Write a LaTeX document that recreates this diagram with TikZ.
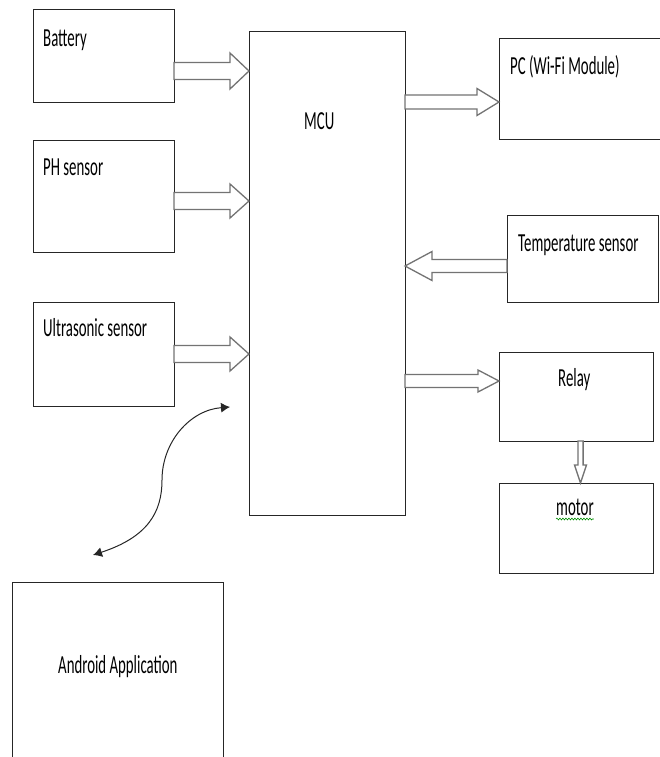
\documentclass[tikz,border=0pt]{standalone}
\usepackage{fontspec}
\setmainfont[FakeStretch=0.57]{Carlito}
\usetikzlibrary{calc,arrows.meta,decorations.pathmorphing}
\newcommand\blockh[5]{%
  \draw[blk] let \p1=#1, \p2=#2, \n1={ifthenelse(\x2>\x1,1,-1)} in
    (\x1,\y1+#3pt) -- (\x2-\n1*#5pt,\y1+#3pt) -- (\x2-\n1*#5pt,\y1+#4pt) --
    (\x2,\y1) -- (\x2-\n1*#5pt,\y1-#4pt) -- (\x2-\n1*#5pt,\y1-#3pt) -- (\x1,\y1-#3pt) -- cycle;}
\newcommand\blockv[5]{%
  \draw[blk] let \p1=#1, \p2=#2, \n1={ifthenelse(\y2>\y1,1,-1)} in
    (\x1+#3pt,\y1) -- (\x1+#3pt,\y2-\n1*#5pt) -- (\x1+#4pt,\y2-\n1*#5pt) --
    (\x1,\y2) -- (\x1-#4pt,\y2-\n1*#5pt) -- (\x1-#3pt,\y2-\n1*#5pt) -- (\x1-#3pt,\y1) -- cycle;}
\begin{document}
\begin{tikzpicture}[x=1pt,y=-1pt,
  box/.style={draw=black!85, line width=1pt, inner sep=0pt, outer sep=0pt, anchor=north west},
  lbl/.style={anchor=base west, inner sep=0pt, font=\fontsize{26}{30}\selectfont, text=black},
  blk/.style={draw=black!55, line width=1.3pt, fill=white, line join=miter},
  curved/.style={{Latex[length=9pt,width=10pt]}-{Latex[length=9pt,width=10pt]}, line width=1pt, draw=black!85},
]
\useasboundingbox (0,0) rectangle (659,757);

% boxes
\node[box, minimum width=141pt, minimum height=93pt]  (bat)   at (33,10)  {};
\node[box, minimum width=141pt, minimum height=112pt] (ph)    at (33,140) {};
\node[box, minimum width=141pt, minimum height=104pt] (us)    at (33,302) {};
\node[box, minimum width=156pt, minimum height=483pt] (mcu)   at (249,32) {};
\node[box, minimum width=170pt, minimum height=100pt] (pc)    at (499,39) {};
\node[box, minimum width=151pt, minimum height=87pt]  (temp)  at (507,215) {};
\node[box, minimum width=154pt, minimum height=89pt]  (relay) at (499,352) {};
\node[box, minimum width=154pt, minimum height=90pt]  (motor) at (499,483) {};
\node[box, minimum width=211pt, minimum height=200pt] (app)   at (12,582) {};

% labels
\node[lbl] (tbat)   at (43,47)   {Battery};
\node[lbl] (tph)    at (43,175)  {PH sensor};
\node[lbl] (tus)    at (43,336)  {Ultrasonic sensor};
\node[lbl] (tmcu)   at (304,129) {MCU};
\node[lbl] (tpc)    at (510,75)  {PC (Wi-Fi Module)};
\node[lbl] (ttemp)  at (518,251) {Temperature sensor};
\node[lbl] (trelay) at (558,386) {Relay};
\node[lbl] (tmotor) at (556,515) {motor};
\node[lbl] (tapp)   at (58,673)  {Android Application};
\draw[green!55!black, line width=0.6pt, decorate, decoration={snake, amplitude=0.9pt, segment length=3pt}]
  ($(tmotor.base west)+(0,4)$) -- ($(tmotor.base east)+(0,4)$);

% level coordinates
\coordinate (l1) at (0,71);
\coordinate (l2) at (0,201);
\coordinate (l3) at (0,354);
\coordinate (l4) at (0,102);
\coordinate (l5) at (0,266);
\coordinate (l6) at (0,381);

% block arrows
\blockh{(bat.east |- l1)}{(mcu.west |- l1)}{8.5}{18}{19}
\blockh{(ph.east |- l2)}{(mcu.west |- l2)}{8.5}{17}{19}
\blockh{(us.east |- l3)}{(mcu.west |- l3)}{8.5}{17}{19}
\blockh{(mcu.east |- l4)}{(pc.west |- l4)}{7}{13.5}{22}
\blockh{(temp.west |- l5)}{(mcu.east |- l5)}{6.5}{14.5}{27}
\blockh{(mcu.east |- l6)}{(relay.west |- l6)}{6.5}{11}{21}
\coordinate (vx) at (580.5,0);
\blockv{(relay.south -| vx)}{(motor.north -| vx)}{2.6}{6}{18}

% curved double arrow
\coordinate (cA) at (93,555);
\coordinate (cB) at (230,407);
\draw[curved] (cA) .. controls (148,537) and (162,512) .. (162,480)
  .. controls (162,442) and (190,410) .. (cB);
\end{tikzpicture}
\end{document}
